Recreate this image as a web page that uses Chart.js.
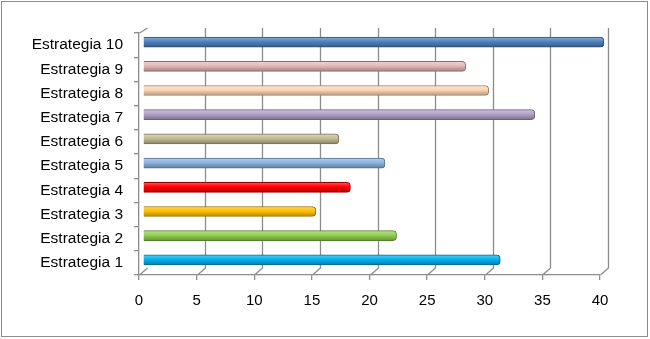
<!DOCTYPE html>
<html>
<head>
<meta charset="utf-8">
<script src="https://cdn.jsdelivr.net/npm/chart.js@4.4.0/dist/chart.umd.min.js"></script>
<style>
  body { margin: 0; background: #fff; }
  #wrap { position: relative; width: 650px; height: 339px; }
</style>
</head>
<body>
<div id="wrap"><canvas id="chart"></canvas></div>
<script>
const categories = ['Estrategia 1', 'Estrategia 2', 'Estrategia 3', 'Estrategia 4', 'Estrategia 5',
                    'Estrategia 6', 'Estrategia 7', 'Estrategia 8', 'Estrategia 9', 'Estrategia 10'];
const values = [31, 22, 15, 18, 21, 17, 34, 30, 28, 40];
const barColors = ['#00B0F0', '#92D050', '#FFC000', '#FF0000', '#8DB4E2',
                   '#C4BD97', '#B2A1C7', '#FCD5B4', '#E6B9B8', '#4F81BD'];
const xTicks = [0, 5, 10, 15, 20, 25, 30, 35, 40];

const DX = 8, DY = 7;        // depth of the 3d box
const GRID = '#8c8c8c';

function shade(hex, f) {
    const n = parseInt(hex.slice(1), 16);
    let r = n >> 16, g = (n >> 8) & 255, b = n & 255;
    const m = c => f < 0 ? Math.round(c * (1 + f)) : Math.round(c + (255 - c) * f);
    return `rgb(${m(r)},${m(g)},${m(b)})`;
}

function barFill(ctx) {
    const chart = ctx.chart;
    const base = barColors[ctx.dataIndex];
    if (!chart.chartArea) return base;
    const y = chart.scales.y.getPixelForValue(ctx.dataIndex);
    const g = chart.ctx.createLinearGradient(0, y - 5, 0, y + 5);
    g.addColorStop(0, shade(base, 0.35));
    g.addColorStop(0.45, base);
    g.addColorStop(1, shade(base, -0.3));
    return g;
}

// back wall, floor depth lines, outer frame
const boxPlugin = {
    id: 'box3d',
    beforeDatasetsDraw(chart) {
        const { ctx, chartArea: a, scales: { x } } = chart;
        ctx.save();
        ctx.strokeStyle = GRID;
        ctx.lineWidth = 1.3;
        xTicks.forEach(v => {
            const px = Math.round(x.getPixelForValue(v)) + 0.5;
            ctx.beginPath();
            ctx.moveTo(px, a.bottom);
            ctx.lineTo(px + DX, a.bottom - DY);
            if (v > 0) ctx.lineTo(px + DX, a.top - 5);
            ctx.stroke();
        });
        // left wall top edge
        ctx.beginPath();
        ctx.moveTo(a.left + 0.5, a.top);
        ctx.lineTo(a.left + DX + 0.5, a.top - 5);
        ctx.stroke();
        ctx.restore();
        ctx.save();
        ctx.translate(4, -3);
    },
    afterDatasetsDraw(chart) {
        chart.ctx.restore();
    },
    afterDraw(chart) {
        const ctx = chart.ctx;
        ctx.save();
        ctx.strokeStyle = '#8c8c8c';
        ctx.lineWidth = 1;
        ctx.strokeRect(1.5, 1.5, 646, 335);
        ctx.restore();
    }
};

new Chart(document.getElementById('chart'), {
    type: 'bar',
    data: {
        labels: categories,
        datasets: [{
            data: values,
            backgroundColor: barFill,
            borderColor: barColors.map(c => shade(c, -0.4)),
            borderWidth: 1,
            borderRadius: { topRight: 4, bottomRight: 4 },
            borderSkipped: 'left',
            barThickness: 10
        }]
    },
    options: {
        indexAxis: 'y',
        responsive: true,
        maintainAspectRatio: false,
        animation: false,
        layout: { padding: { top: 33, right: 50, left: 0, bottom: 0 } },
        plugins: { legend: { display: false }, tooltip: { enabled: false } },
        scales: {
            x: {
                min: 0, max: 40,
                ticks: { stepSize: 5, color: '#000', padding: 12, font: { family: 'Liberation Sans', size: 15 } },
                grid: { drawOnChartArea: false, drawTicks: true, tickLength: 5, color: GRID, lineWidth: 1.3 },
                border: { display: true, color: GRID, width: 1.3 },
                afterFit: s => { s.height = 339 - 275; }
            },
            y: {
                reverse: true,
                ticks: { color: '#000', padding: 11, font: { family: 'Liberation Sans', size: 15.5 } },
                grid: { drawOnChartArea: false, drawTicks: true, tickLength: 5, color: GRID, lineWidth: 1.3 },
                border: { display: true, color: GRID, width: 1.3 },
                afterFit: s => { s.width = 139; }
            }
        }
    },
    plugins: [boxPlugin]
});
</script>
</body>
</html>
